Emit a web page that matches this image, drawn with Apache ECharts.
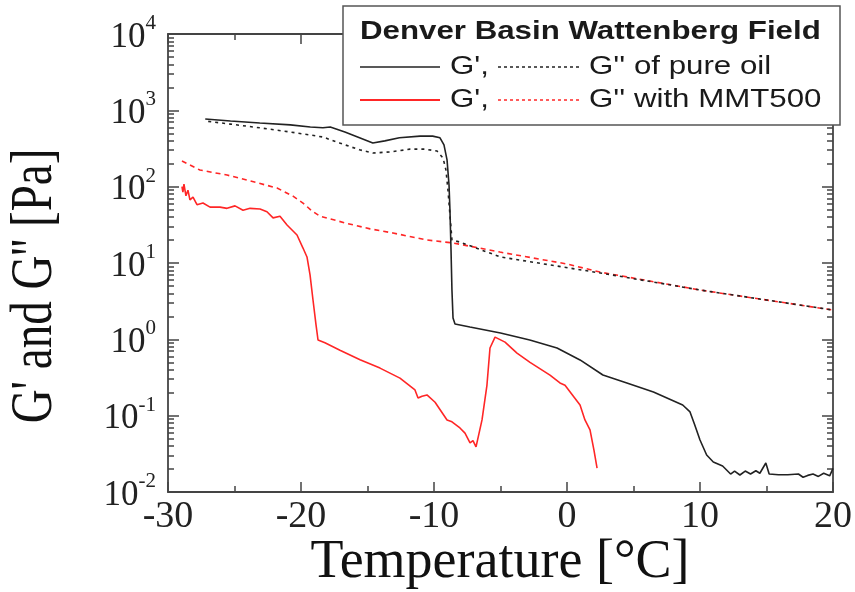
<!DOCTYPE html>
<html>
<head>
<meta charset="utf-8">
<script src="https://cdn.jsdelivr.net/npm/echarts@6/dist/echarts.min.js"></script>
<style>
html,body{margin:0;padding:0;background:#fff;}
#chart{width:855px;height:592px;}
</style>
</head>
<body>
<div id="chart"></div>
<script>
// ---- Data (temperature in °C, modulus in Pa) ----
const oilGpT = [-27.2,-25.3,-23.1,-20.8,-19.3,-18.35,-17.8,-16.7,-15.6,-14.6,-13.7,-12.6,-11.05,-10.1,-9.55,-9.25,-9.02,-8.87,-8.8,-8.72,-8.65,-8.57,-8.42,-7.3,-5.0,-2.8,-0.75,0.98,2.7,4.5,6.5,8.7,9.25,9.6,10.0,10.5,11.0,11.7,12.3,12.6,13.0,13.4,13.8,14.2,14.5,14.95,15.2,15.9,16.6,17.4,17.75,18.1,18.5,18.9,19.3,19.75,20.0];
const oilGpV = [769,725,683,645,605,590,605,520,437,373,398,437,459,459,437,352,224,105,49,14.7,4.4,1.9,1.59,1.45,1.21,0.98,0.77,0.537,0.341,0.268,0.204,0.138,0.112,0.076,0.048,0.0305,0.0247,0.0219,0.0172,0.0188,0.0167,0.0188,0.0172,0.019,0.0176,0.024,0.0172,0.0168,0.0168,0.0172,0.0156,0.0165,0.0172,0.016,0.0176,0.0163,0.0204];

const oilGppT = [-27.2,-25.3,-23.1,-20.8,-19.3,-18.35,-17.1,-15.6,-14.6,-13.3,-11.8,-10.7,-9.77,-9.32,-9.1,-8.95,-8.8,-8.65,-8.05,-5.0,2.5,10.0,20.0];
const oilGppV = [725,660,590,520,475,447,373,304,276,285,310,310,293,237,165,90,42.5,20,18.8,12.0,7.4,4.43,2.42];

const mmtGpT = [-28.95,-28.88,-28.8,-28.65,-28.5,-28.35,-28.12,-27.82,-27.37,-26.84,-26.09,-25.56,-24.96,-24.36,-23.83,-23.08,-22.56,-22.1,-21.58,-21.05,-20.3,-19.85,-19.55,-19.32,-19.1,-18.87,-18.72,-18.2,-17.07,-15.56,-14.06,-12.56,-11.43,-11.2,-10.9,-10.53,-9.92,-9.02,-8.65,-8.05,-7.67,-7.29,-7.07,-6.84,-6.39,-6.02,-5.79,-5.41,-4.66,-3.76,-2.78,-1.28,-0.53,-0.15,0.98,1.35,1.73,2.03,2.26];
const mmtGpV = [100,85,108,76,90,67,73,58,61,54,54,52,56,49,52,51,47,39,41,31.5,23.3,15.7,12,7,3.3,1.55,0.98,0.9,0.72,0.54,0.42,0.31,0.217,0.17,0.18,0.187,0.15,0.0877,0.083,0.069,0.059,0.044,0.047,0.039,0.088,0.25,0.77,1.07,0.92,0.66,0.50,0.34,0.268,0.25,0.138,0.088,0.065,0.035,0.0206];

const mmtGppT = [-28.95,-27.6,-25.56,-23.83,-21.8,-20.6,-19.85,-19.17,-18.57,-16.54,-14.81,-13.08,-10.53,-8.57,-5.04,0.0,2.48,10.0,20.0];
const mmtGppV = [217,165,142,119,96,75,61,48,41,33,28,24.7,20,18.3,13.9,9.7,7.6,4.43,2.42];

const xTicks = [-30,-20,-10,0,10,20];
const yTickVals = [0.01,0.1,1,10,100,1000,10000];
const yMinorVals = [];
for (let e = -2; e < 4; e++) { for (let m = 2; m <= 9; m++) yMinorVals.push(+(m * Math.pow(10, e)).toPrecision(3)); }

const zip = (t, v) => t.map((x, i) => [x, v[i]]);

const BLACK = '#222', RED = '#ff2626', AXIS = '#444';
const serif = '"Liberation Serif", "Times New Roman", serif';
const sans = '"Liberation Sans", Arial, sans-serif';

const chart = echarts.init(document.getElementById('chart'), null, {renderer: 'canvas'});

const xBase = {
  type: 'value', min: xTicks[0], max: xTicks[xTicks.length - 1], interval: 10,
  axisLine: {onZero: false, lineStyle: {color: AXIS, width: 1.8}},
  axisTick: {show: true, inside: true, length: 10, lineStyle: {color: AXIS, width: 1.5}},
  minorTick: {show: true, splitNumber: 2, length: 6, lineStyle: {color: AXIS, width: 1.5}},
  splitLine: {show: false}
};
const yBase = {
  type: 'log', logBase: 10, min: 0.01, max: 10000,
  splitLine: {show: false}, minorSplitLine: {show: false}
};

const option = {
  animation: false,
  backgroundColor: '#fff',
  grid: {left: 168, top: 34, width: 665, height: 458, containLabel: false, outerBoundsMode: 'none'},
  xAxis: [
    Object.assign({}, xBase, {position: 'bottom',
      axisLabel: {fontFamily: serif, fontSize: 38, color: '#222', margin: 6}}),
    Object.assign({}, xBase, {position: 'top', axisLabel: {show: false}})
  ],
  yAxis: [
    Object.assign({}, yBase, {position: 'left',
      axisLine: {show: true, onZero: false, lineStyle: {color: AXIS, width: 1.8}},
      axisTick: {show: true, inside: true, length: 11, customValues: yTickVals, lineStyle: {color: AXIS, width: 1.5}},
      axisLabel: {show: true, margin: 12, customValues: yTickVals,
        formatter: v => '{b|10}{s|' + Math.round(Math.log10(v)) + '}',
        rich: {
          b: {fontFamily: serif, fontSize: 35, color: '#222', padding: [7, 0, 0, 0]},
          s: {fontFamily: serif, fontSize: 21, color: '#222', verticalAlign: 'top'}
        }}}),
    Object.assign({}, yBase, {position: 'left',
      axisLine: {show: false, onZero: false},
      axisTick: {show: true, inside: true, length: 6, customValues: yMinorVals, lineStyle: {color: AXIS, width: 1.5}},
      axisLabel: {show: false}}),
    Object.assign({}, yBase, {position: 'right',
      axisLine: {show: true, onZero: false, lineStyle: {color: AXIS, width: 1.8}},
      axisTick: {show: true, inside: true, length: 11, customValues: yTickVals, lineStyle: {color: AXIS, width: 1.5}},
      axisLabel: {show: false}}),
    Object.assign({}, yBase, {position: 'right',
      axisLine: {show: false, onZero: false},
      axisTick: {show: true, inside: true, length: 6, customValues: yMinorVals, lineStyle: {color: AXIS, width: 1.5}},
      axisLabel: {show: false}})
  ],
  series: [
    {name: "G'' with MMT500", type: 'line', data: zip(mmtGppT, mmtGppV), showSymbol: false, symbol: 'none',
      lineStyle: {color: RED, width: 1.6, type: [5, 4]}, z: 2},
    {name: "G'' of pure oil", type: 'line', data: zip(oilGppT, oilGppV), showSymbol: false, symbol: 'none',
      lineStyle: {color: BLACK, width: 1.6, type: [3, 4], dashOffset: 4}, z: 3},
    {name: "G' with MMT500", type: 'line', data: zip(mmtGpT, mmtGpV), showSymbol: false, symbol: 'none',
      lineStyle: {color: RED, width: 1.6}, z: 4},
    {name: "G' of pure oil", type: 'line', data: zip(oilGpT, oilGpV), showSymbol: false, symbol: 'none',
      lineStyle: {color: BLACK, width: 1.6}, z: 5}
  ],
  graphic: [
    {type: 'text', x: 500, y: 563, z: 50,
      style: {text: 'Temperature [°C]', font: '54px ' + serif, fill: '#111', textAlign: 'center', textVerticalAlign: 'middle'}},
    {type: 'text', x: 36, y: 286, rotation: Math.PI / 2, scaleY: 1.25, z: 50,
      style: {text: "G' and G'' [Pa]", font: '47px ' + serif, fill: '#111', textAlign: 'center', textVerticalAlign: 'middle'}},
    {type: 'group', z: 100, children: [
      {type: 'rect', shape: {x: 343, y: 6, width: 497, height: 119}, style: {fill: '#fff', stroke: '#555', lineWidth: 1.5}, z: 100},
      {type: 'text', x: 360, y: 32, scaleX: 1.25, z: 101,
        style: {text: 'Denver Basin Wattenberg Field', font: 'bold 25px ' + sans, fill: '#1a1a1a', textVerticalAlign: 'middle'}},
      {type: 'line', shape: {x1: 360, y1: 67, x2: 440, y2: 67}, style: {stroke: BLACK, lineWidth: 1.5}, z: 101},
      {type: 'text', x: 450, y: 67, scaleX: 1.25, z: 101,
        style: {text: "G',", font: '25px ' + sans, fill: '#1a1a1a', textVerticalAlign: 'middle'}},
      {type: 'line', shape: {x1: 498, y1: 67, x2: 580, y2: 67}, style: {stroke: BLACK, lineWidth: 1.3, lineDash: [3, 3]}, z: 101},
      {type: 'text', x: 589, y: 67, scaleX: 1.25, z: 101,
        style: {text: "G'' of pure oil", font: '25px ' + sans, fill: '#1a1a1a', textVerticalAlign: 'middle'}},
      {type: 'line', shape: {x1: 360, y1: 100, x2: 440, y2: 100}, style: {stroke: RED, lineWidth: 1.8}, z: 101},
      {type: 'text', x: 450, y: 100, scaleX: 1.25, z: 101,
        style: {text: "G',", font: '25px ' + sans, fill: '#1a1a1a', textVerticalAlign: 'middle'}},
      {type: 'line', shape: {x1: 498, y1: 100, x2: 580, y2: 100}, style: {stroke: RED, lineWidth: 1.3, lineDash: [3, 3]}, z: 101},
      {type: 'text', x: 589, y: 100, scaleX: 1.25, z: 101,
        style: {text: "G'' with MMT500", font: '25px ' + sans, fill: '#1a1a1a', textVerticalAlign: 'middle'}}
    ]}
  ]
};
chart.setOption(option);
</script>
</body>
</html>
